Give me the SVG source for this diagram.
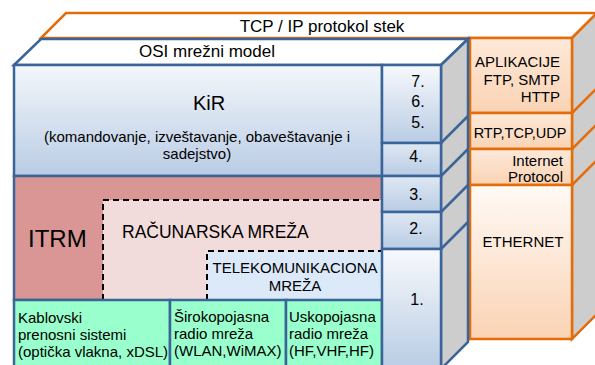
<svg xmlns="http://www.w3.org/2000/svg" width="595" height="365" viewBox="0 0 595 365">
<defs>
<linearGradient id="gBlue" x1="0" y1="0" x2="0" y2="1"><stop offset="0" stop-color="#f4f7fb"/><stop offset="1" stop-color="#b9cce4"/></linearGradient>
<linearGradient id="gNum" x1="0" y1="0" x2="0" y2="1"><stop offset="0" stop-color="#dfe8f3"/><stop offset="1" stop-color="#b9cce4"/></linearGradient>
<linearGradient id="gNum1" x1="0" y1="0" x2="0" y2="1"><stop offset="0" stop-color="#f7f9fc"/><stop offset="1" stop-color="#b9cce4"/></linearGradient>
<linearGradient id="gOr" x1="0" y1="0" x2="0" y2="1"><stop offset="0" stop-color="#fde9d9"/><stop offset="1" stop-color="#fad3b4"/></linearGradient>
<linearGradient id="gEth" x1="0" y1="0" x2="0" y2="1"><stop offset="0" stop-color="#fffaf6"/><stop offset="1" stop-color="#fad3b4"/></linearGradient>
</defs>
<style>
text{font-family:"Liberation Sans",Arial,sans-serif;fill:#000}
.b{stroke:#3b6498;stroke-width:2.5}
.o{stroke:#e46c0a;stroke-width:2.5}
.gray{fill:#cdcdcd}
.dash{fill:none;stroke:#000;stroke-width:2;stroke-dasharray:6 4}
.t15{font-size:15px}
.num{font-size:16px;text-anchor:middle}
.c{text-anchor:middle}
.e{text-anchor:end}
</style>

<g id="tcpip">
<polygon class="o" fill="#fff" points="41,38 66,13 597,13 572,38"/>
<polygon class="o gray" points="572,38 597,13 597,314 572,339"/>
<g id="connectors-orange" fill="none" class="o">
<line x1="572" y1="113" x2="597" y2="88"/>
<line x1="572" y1="149" x2="597" y2="124"/>
<line x1="572" y1="185" x2="597" y2="160"/>
</g>
<text class="c" x="322" y="32" font-size="17">TCP / IP protokol stek</text>
</g>

<g id="aplikacije">
<rect class="o" x="470" y="38" width="102" height="75" fill="url(#gOr)"/>
<text class="t15 e" x="560" y="67">APLIKACIJE</text>
<text class="t15 e" x="560" y="85">FTP, SMTP</text>
<text class="t15 e" x="560" y="102">HTTP</text>
</g>
<g id="rtp">
<rect class="o" x="470" y="113" width="102" height="36" fill="url(#gOr)"/>
<text class="c" x="520" y="138" font-size="14.5">RTP,TCP,UDP</text>
</g>
<g id="ip">
<rect class="o" x="470" y="149" width="102" height="36" fill="url(#gOr)"/>
<text class="t15 e" x="563" y="166">Internet</text>
<text class="t15 e" x="563" y="182">Protocol</text>
</g>
<g id="ethernet">
<rect class="o" x="470" y="185" width="102" height="154" fill="url(#gEth)"/>
<text class="t15 c" x="523" y="247">ETHERNET</text>
</g>

<g id="osi">
<polygon class="b" fill="#fff" points="14,65 41,39 468,39 441,65"/>
<polygon class="b gray" points="441,65 468,39 468,342 441,369"/>
<g id="connectors-blue" fill="none" class="b">
<line x1="441" y1="143" x2="468" y2="116"/>
<line x1="441" y1="176" x2="468" y2="149"/>
<line x1="441" y1="212" x2="468" y2="185"/>
<line x1="441" y1="249" x2="468" y2="222"/>
</g>
<text class="c" x="207" y="57" font-size="17">OSI mrežni model</text>
</g>

<g id="kir">
<rect class="b" x="14" y="65" width="368" height="111" fill="url(#gBlue)"/>
<text class="c" x="209" y="110" font-size="20">KiR</text>
<text class="t15 c" x="197" y="142">(komandovanje, izveštavanje, obaveštavanje i</text>
<text class="t15 c" x="197" y="159">sadejstvo)</text>
</g>

<g id="itrm">
<rect class="b" x="14" y="176" width="368" height="124" fill="#d99694"/>
<text x="28" y="247" font-size="24">ITRM</text>
</g>

<g id="racunarska">
<rect x="103" y="200" width="279" height="100" fill="#f2dcdb"/>
<path class="dash" d="M103,300 V200 H382"/>
<text x="122" y="238" font-size="17.5">RAČUNARSKA MREŽA</text>
</g>

<g id="telekom">
<rect x="207" y="251" width="175" height="49" fill="#dbe9f9"/>
<path class="dash" d="M207,300 V251 H382"/>
<text class="t15 c" x="295" y="273">TELEKOMUNIKACIONA</text>
<text class="t15 c" x="295" y="291">MREŽA</text>
</g>

<g id="kablovski">
<rect class="b" x="14" y="300" width="156" height="69" fill="#99ffcc"/>
<text class="t15" x="18" y="323">Kablovski</text>
<text class="t15" x="18" y="340">prenosni sistemi</text>
<text class="t15" x="18" y="357">(optička vlakna, xDSL)</text>
</g>
<g id="sirokopojasna">
<rect class="b" x="170" y="300" width="116" height="69" fill="#99ffcc"/>
<text class="t15" x="174" y="322">Širokopojasna</text>
<text class="t15" x="174" y="339">radio mreža</text>
<text class="t15" x="174" y="356">(WLAN,WiMAX)</text>
</g>
<g id="uskopojasna">
<rect class="b" x="286" y="300" width="96" height="69" fill="#99ffcc"/>
<text class="t15" x="289" y="322">Uskopojasna</text>
<text class="t15" x="289" y="339">radio mreža</text>
<text class="t15" x="289" y="356">(HF,VHF,HF)</text>
</g>

<g id="layer765">
<rect class="b" x="382" y="65" width="59" height="78" fill="url(#gNum1)"/>
<text class="num" x="418" y="87">7.</text>
<text class="num" x="418" y="107">6.</text>
<text class="num" x="418" y="128">5.</text>
</g>
<g id="layer4">
<rect class="b" x="382" y="143" width="59" height="33" fill="url(#gNum)"/>
<text class="num" x="416" y="162">4.</text>
</g>
<g id="layer3">
<rect class="b" x="382" y="176" width="59" height="36" fill="url(#gNum)"/>
<text class="num" x="416" y="200">3.</text>
</g>
<g id="layer2">
<rect class="b" x="382" y="212" width="59" height="37" fill="url(#gNum)"/>
<text class="num" x="416" y="234">2.</text>
</g>
<g id="layer1">
<rect class="b" x="382" y="249" width="59" height="120" fill="url(#gNum1)"/>
<text class="num" x="417" y="305">1.</text>
</g>
</svg>
